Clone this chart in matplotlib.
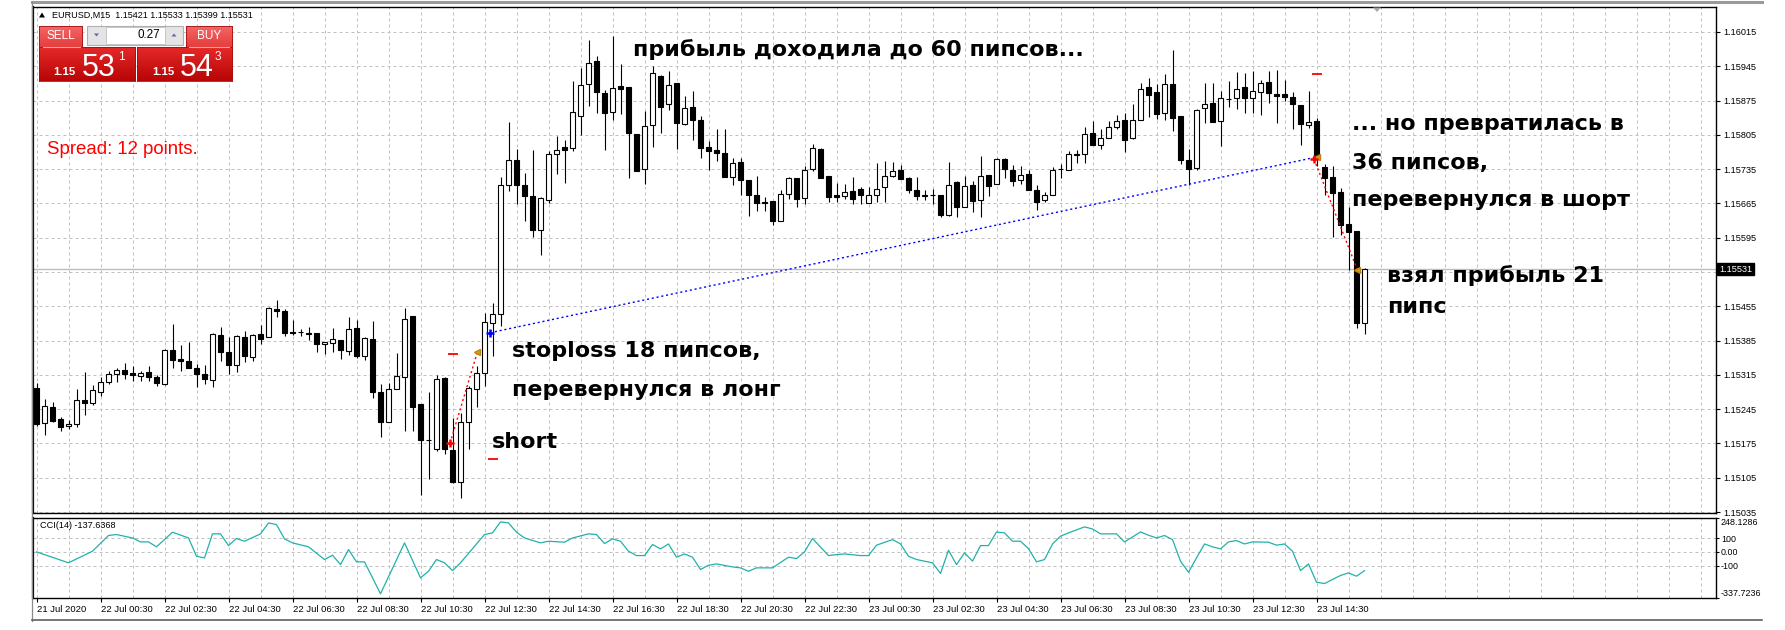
import numpy as np
import matplotlib
matplotlib.use('Agg')
import matplotlib.pyplot as plt
from matplotlib.patches import Rectangle, Polygon
from matplotlib.lines import Line2D
from matplotlib.transforms import Affine2D

plt.rcParams['font.family'] = ['Liberation Sans', 'DejaVu Sans']

# ---------------- data (EURUSD M15, 21 Jul 22:30 .. 23 Jul 16:00) ----------------
opens = [1.15288, 1.15217, 1.15250, 1.15225, 1.15210, 1.15214, 1.15263, 1.15257, 1.15280, 1.15300,
         1.15317, 1.15324, 1.15318, 1.15313, 1.15321, 1.15311, 1.15296, 1.15366, 1.15348, 1.15343,
         1.15328, 1.15316, 1.15304, 1.15397, 1.15362, 1.15335, 1.15393, 1.15352, 1.15399, 1.15392,
         1.15450, 1.15446, 1.15403, 1.15403, 1.15401, 1.15401, 1.15378, 1.15380, 1.15386, 1.15364,
         1.15411, 1.15354, 1.15388, 1.15281, 1.15219, 1.15286, 1.15310, 1.15435, 1.15255, 1.15183,
         1.15164, 1.15308, 1.15161, 1.15097, 1.15218, 1.15286, 1.15318, 1.15421, 1.15440, 1.15702,
         1.15754, 1.15703, 1.15681, 1.15610, 1.15673, 1.15765, 1.15780, 1.15778, 1.15844, 1.15908,
         1.15955, 1.15891, 1.15852, 1.15904, 1.15902, 1.15806, 1.15736, 1.15826, 1.15925, 1.15867,
         1.15910, 1.15827, 1.15861, 1.15836, 1.15780, 1.15774, 1.15767, 1.15719, 1.15750, 1.15712,
         1.15682, 1.15667, 1.15669, 1.15630, 1.15685, 1.15716, 1.15676, 1.15736, 1.15777, 1.15721,
         1.15682, 1.15681, 1.15690, 1.15695, 1.15666, 1.15683, 1.15698, 1.15721, 1.15734, 1.15717,
         1.15693, 1.15682, 1.15683, 1.15683, 1.15642, 1.15708, 1.15658, 1.15703, 1.15671, 1.15724,
         1.15705, 1.15755, 1.15734, 1.15712, 1.15726, 1.15693, 1.15671, 1.15683, 1.15735, 1.15734,
         1.15764, 1.15766, 1.15808, 1.15785, 1.15799, 1.15822, 1.15835, 1.15799, 1.15835, 1.15902,
         1.15892, 1.15850, 1.15908, 1.15843, 1.15753, 1.15737, 1.15859, 1.15869, 1.15834, 1.15879,
         1.15880, 1.15902, 1.15880, 1.15893, 1.15912, 1.15889, 1.15889, 1.15882, 1.15865, 1.15826,
         1.15833, 1.15740, 1.15718, 1.15688, 1.15623, 1.15608, 1.15421]
highs = [1.15299, 1.15265, 1.15260, 1.15229, 1.15223, 1.15287, 1.15321, 1.15294, 1.15311, 1.15323,
         1.15329, 1.15339, 1.15333, 1.15322, 1.15334, 1.15314, 1.15367, 1.15418, 1.15375, 1.15383,
         1.15337, 1.15336, 1.15401, 1.15413, 1.15393, 1.15396, 1.15405, 1.15398, 1.15416, 1.15454,
         1.15467, 1.15450, 1.15428, 1.15409, 1.15413, 1.15401, 1.15383, 1.15411, 1.15386, 1.15434,
         1.15428, 1.15392, 1.15424, 1.15296, 1.15299, 1.15360, 1.15451, 1.15436, 1.15256, 1.15280,
         1.15315, 1.15310, 1.15226, 1.15237, 1.15293, 1.15334, 1.15442, 1.15461, 1.15719, 1.15831,
         1.15776, 1.15727, 1.15774, 1.15678, 1.15772, 1.15802, 1.15795, 1.15914, 1.15942, 1.15999,
         1.15965, 1.15897, 1.16006, 1.15950, 1.15903, 1.15806, 1.15853, 1.15945, 1.15928, 1.15935,
         1.15911, 1.15884, 1.15894, 1.15843, 1.15792, 1.15816, 1.15816, 1.15758, 1.15758, 1.15712,
         1.15722, 1.15678, 1.15670, 1.15692, 1.15719, 1.15717, 1.15741, 1.15786, 1.15778, 1.15722,
         1.15707, 1.15704, 1.15718, 1.15699, 1.15698, 1.15748, 1.15751, 1.15749, 1.15744, 1.15718,
         1.15718, 1.15693, 1.15695, 1.15683, 1.15749, 1.15710, 1.15720, 1.15710, 1.15761, 1.15724,
         1.15758, 1.15758, 1.15744, 1.15742, 1.15734, 1.15702, 1.15689, 1.15739, 1.15746, 1.15772,
         1.15775, 1.15821, 1.15833, 1.15816, 1.15834, 1.15846, 1.15850, 1.15867, 1.15911, 1.15921,
         1.15908, 1.15930, 1.15979, 1.15843, 1.15777, 1.15858, 1.15911, 1.15910, 1.15895, 1.15914,
         1.15933, 1.15931, 1.15935, 1.15916, 1.15935, 1.15938, 1.15916, 1.15893, 1.15865, 1.15895,
         1.15840, 1.15746, 1.15741, 1.15697, 1.15657, 1.15609, 1.15533]
lows = [1.15210, 1.15192, 1.15219, 1.15200, 1.15205, 1.15209, 1.15233, 1.15253, 1.15271, 1.15297,
        1.15301, 1.15306, 1.15302, 1.15302, 1.15302, 1.15292, 1.15295, 1.15330, 1.15322, 1.15328,
        1.15291, 1.15296, 1.15290, 1.15343, 1.15316, 1.15320, 1.15341, 1.15344, 1.15377, 1.15392,
        1.15433, 1.15394, 1.15396, 1.15394, 1.15386, 1.15361, 1.15357, 1.15361, 1.15348, 1.15356,
        1.15350, 1.15346, 1.15267, 1.15188, 1.15219, 1.15286, 1.15200, 1.15200, 1.15070, 1.15102,
        1.15160, 1.15153, 1.15095, 1.15064, 1.15163, 1.15249, 1.15292, 1.15354, 1.15414, 1.15691,
        1.15664, 1.15629, 1.15597, 1.15559, 1.15666, 1.15725, 1.15706, 1.15772, 1.15804, 1.15863,
        1.15850, 1.15775, 1.15836, 1.15848, 1.15716, 1.15731, 1.15704, 1.15780, 1.15808, 1.15855,
        1.15777, 1.15825, 1.15795, 1.15757, 1.15734, 1.15751, 1.15719, 1.15702, 1.15683, 1.15640,
        1.15649, 1.15649, 1.15621, 1.15629, 1.15675, 1.15658, 1.15663, 1.15731, 1.15717, 1.15668,
        1.15668, 1.15675, 1.15663, 1.15664, 1.15665, 1.15668, 1.15668, 1.15719, 1.15714, 1.15686,
        1.15671, 1.15673, 1.15663, 1.15637, 1.15640, 1.15638, 1.15658, 1.15648, 1.15638, 1.15680,
        1.15705, 1.15716, 1.15700, 1.15705, 1.15693, 1.15651, 1.15668, 1.15683, 1.15717, 1.15734,
        1.15748, 1.15748, 1.15784, 1.15777, 1.15799, 1.15816, 1.15770, 1.15797, 1.15835, 1.15842,
        1.15838, 1.15836, 1.15812, 1.15746, 1.15702, 1.15733, 1.15829, 1.15831, 1.15783, 1.15862,
        1.15858, 1.15850, 1.15850, 1.15845, 1.15870, 1.15829, 1.15875, 1.15816, 1.15784, 1.15818,
        1.15741, 1.15683, 1.15597, 1.15600, 1.15530, 1.15411, 1.15399]
closes = [1.15214, 1.15251, 1.15220, 1.15209, 1.15215, 1.15263, 1.15257, 1.15284, 1.15301, 1.15317,
          1.15325, 1.15316, 1.15315, 1.15318, 1.15310, 1.15298, 1.15366, 1.15345, 1.15343, 1.15328,
          1.15316, 1.15306, 1.15399, 1.15361, 1.15335, 1.15395, 1.15353, 1.15396, 1.15388, 1.15452,
          1.15445, 1.15400, 1.15400, 1.15402, 1.15398, 1.15377, 1.15382, 1.15388, 1.15365, 1.15409,
          1.15353, 1.15390, 1.15280, 1.15218, 1.15287, 1.15313, 1.15430, 1.15249, 1.15182, 1.15182,
          1.15307, 1.15163, 1.15097, 1.15218, 1.15289, 1.15318, 1.15422, 1.15440, 1.15703, 1.15754,
          1.15702, 1.15681, 1.15610, 1.15676, 1.15765, 1.15775, 1.15775, 1.15851, 1.15906, 1.15952,
          1.15892, 1.15850, 1.15901, 1.15899, 1.15809, 1.15732, 1.15824, 1.15931, 1.15862, 1.15906,
          1.15829, 1.15860, 1.15836, 1.15778, 1.15773, 1.15767, 1.15719, 1.15748, 1.15712, 1.15682,
          1.15666, 1.15666, 1.15629, 1.15685, 1.15717, 1.15675, 1.15734, 1.15778, 1.15717, 1.15678,
          1.15678, 1.15689, 1.15675, 1.15683, 1.15683, 1.15695, 1.15722, 1.15732, 1.15714, 1.15693,
          1.15680, 1.15680, 1.15682, 1.15642, 1.15703, 1.15658, 1.15701, 1.15669, 1.15722, 1.15701,
          1.15755, 1.15735, 1.15710, 1.15724, 1.15693, 1.15668, 1.15683, 1.15734, 1.15736, 1.15765,
          1.15765, 1.15806, 1.15785, 1.15799, 1.15822, 1.15833, 1.15794, 1.15836, 1.15899, 1.15887,
          1.15848, 1.15908, 1.15840, 1.15753, 1.15736, 1.15855, 1.15867, 1.15831, 1.15880, 1.15878,
          1.15899, 1.15880, 1.15895, 1.15910, 1.15891, 1.15885, 1.15882, 1.15867, 1.15828, 1.15831,
          1.15755, 1.15716, 1.15686, 1.15620, 1.15607, 1.15420, 1.15531]

cci_bar = [0, 4, 7, 9, 10, 12, 13, 14, 15, 17, 19, 20, 21, 22, 23, 24, 25, 26, 28, 29, 30, 31, 32, 34,
           36, 37, 38, 39, 40, 41, 43, 46, 48, 49, 50, 51, 52, 53, 56, 57, 58, 59, 60, 61, 63, 64, 66,
           67, 69, 70, 71, 72, 73, 74, 75, 76, 77, 78, 79, 80, 81, 82, 83, 84, 85, 87, 88, 89, 90, 92,
           94, 95, 96, 97, 99, 100, 101, 103, 104, 105, 107, 108, 109, 110, 111, 112, 113, 114, 115,
           116, 117, 118, 119, 120, 121, 122, 123, 124, 125, 126, 127, 128, 129, 131, 132, 133, 135,
           136, 138, 139, 140, 141, 142, 143, 144, 145, 146, 147, 148, 149, 150, 151, 152, 154, 155,
           156, 157, 158, 159, 160, 161, 162, 163, 164, 165, 166]
cci_val = [0, -80, 5, 120, 127, 102, 73, 73, 37, 144, 102, -32, -44, 132, 132, 46, 98, 78, 132, 212,
           200, 95, 66, 37, -56, -24, -93, 17, -73, -73, -307, 66, -190, -142, -56, -80, -137, -80,
           127, 139, 220, 212, 144, 102, 66, 78, 71, 102, 132, 127, 61, 95, 78, 5, -27, -27, 54, 22,
           58, -39, -15, -39, -129, -98, -88, -110, -117, -142, -117, -117, -39, -49, 0, 98, -27,
           -20, -15, -27, -27, 49, 90, 58, -32, -56, -68, -80, -158, 12, -93, -7, -68, 46, 46, 146,
           139, 78, 78, 24, -73, -56, 58, 115, 139, 183, 168, 132, 132, 73, 146, 122, 102, 120, 90,
           -68, -149, -44, 58, 37, 22, 73, 83, 58, 73, 71, 49, 58, 5, -137, -88, -222, -232, -202,
           -173, -154, -178, -137.6368]
cci_max, cci_min = 248.1286, -337.7236

# trades: open / close markers and connecting dotted lines
trade_open_bar = [51.7, 56.7, 159.7]
trade_open_price = [1.15176, 1.15401, 1.15755]
trade_close_bar = [55.1, 160.1, 165.1]
trade_close_price = [1.15361, 1.15760, 1.15530]
trade_color = ['red', 'blue', 'red']
stop_bar = [52.0, 57.0, 160.0]
stop_price = [1.15357, 1.15143, 1.15929]

price_tick_labels = ['1.15035', '1.15105', '1.15175', '1.15245', '1.15315', '1.15385', '1.15455',
                     '1.15525', '1.15595', '1.15665', '1.15735', '1.15805', '1.15875', '1.15945',
                     '1.16015']
last_price = 1.15531
time_tick_bar = [0, 8, 16, 24, 32, 40, 48, 56, 64, 72, 80, 88, 96, 104, 112, 120, 128, 136, 144,
                 152, 160]
time_tick_labels = ['21 Jul 2020', '22 Jul 00:30', '22 Jul 02:30', '22 Jul 04:30', '22 Jul 06:30',
                    '22 Jul 08:30', '22 Jul 10:30', '22 Jul 12:30', '22 Jul 14:30', '22 Jul 16:30',
                    '22 Jul 18:30', '22 Jul 20:30', '22 Jul 22:30', '23 Jul 00:30', '23 Jul 02:30',
                    '23 Jul 04:30', '23 Jul 06:30', '23 Jul 08:30', '23 Jul 10:30', '23 Jul 12:30',
                    '23 Jul 14:30']

notes = [('прибыль доходила до 60 пипсов...', 74.6, 1.15980),
         ('... но превратилась в', 164.4, 1.15827),
         ('36 пипсов,', 164.4, 1.15748),
         ('перевернулся в шорт', 164.4, 1.15672),
         ('взял прибыль 21', 168.8, 1.15518),
         ('пипс', 168.8, 1.15454),
         ('stoploss 18 пипсов,', 59.4, 1.15364),
         ('перевернулся в лонг', 59.4, 1.15284),
         ('short', 56.9, 1.15178)]

# ---------------- figure ----------------
W, H = 1785, 630
fig = plt.figure(figsize=(W / 100, H / 100), dpi=100, facecolor='white')
PX = Affine2D().scale(1 / W, -1 / H).translate(0, 1) + fig.transFigure


def fr(x0, y0, x1, y1):
    return [x0 / W, 1 - y1 / H, (x1 - x0) / W, (y1 - y0) / H]


ax = fig.add_axes(fr(33, 7, 1716, 513))
cax = fig.add_axes(fr(33, 518, 1716, 598))
XMIN, XMAX = -0.4375, 209.9375
for a in (ax, cax):
    a.set_xlim(XMIN, XMAX)
    a.set_facecolor('white')
    for s in a.spines.values():
        s.set_linewidth(1.0)
        s.set_color('black')
ax.spines['left'].set_linewidth(1.6)
cax.spines['left'].set_linewidth(1.6)

price_ticks = [float(s) for s in price_tick_labels]
ax.set_ylim(1.15033, 1.16066)
cax.set_ylim(cci_min, cci_max)

grid_kw = dict(color='#c0c0c0', lw=0.72, ls=(0, (3, 3)), zorder=0)
for gx in np.arange(0, XMAX, 4):
    ax.axvline(gx, **grid_kw)
    cax.axvline(gx, **grid_kw)
for p in price_ticks:
    ax.axhline(p, **grid_kw)
for cv in (100, 0, -100):
    cax.axhline(cv, **grid_kw)
ax.axhline(last_price, color='#bdbdbd', lw=1.0, zorder=0.5)

# candles
o = np.array(opens); h = np.array(highs); l = np.array(lows); c = np.array(closes)
xb = np.arange(len(o))
ax.vlines(xb, l, h, color='black', lw=0.8, zorder=2)
bull = c >= o
lo = np.minimum(o, c)
ht = np.maximum(np.abs(c - o), 1e-7)
ax.bar(xb[bull], ht[bull], bottom=lo[bull], width=0.52, color='white', edgecolor='black',
       lw=0.8, zorder=3)
ax.bar(xb[~bull], ht[~bull], bottom=lo[~bull], width=0.52, color='black', edgecolor='black',
       lw=0.8, zorder=3)

# trades
for ob, op, cb, cp, col in zip(trade_open_bar, trade_open_price, trade_close_bar,
                               trade_close_price, trade_color):
    ax.plot([ob, cb], [op, cp], color=col, lw=1.0, ls=(0, (1.5, 2)), zorder=4)
    ax.plot([ob], [op], marker='+', color=col, ms=6, mew=1.8, zorder=5)
    ax.plot([cb], [cp], marker='<', color='#d4a017', ms=5, mec='#b8860b', zorder=5)
ax.plot(stop_bar, stop_price, ls='none', marker='_', color='red', ms=7, mew=1.3, zorder=5)

# axis labels
ax.set_xticks([])
ax.yaxis.tick_right()
ax.set_yticks(price_ticks)
ax.set_yticklabels([s if s != '1.15525' else '' for s in price_tick_labels])
ax.tick_params(axis='y', length=3, width=0.8, pad=2.5, labelsize=6.6, direction='out')
ax.text(1.0 + 3 / 1683, last_price, '%.5f' % last_price, transform=ax.get_yaxis_transform(),
        ha='left', va='center', color='white', fontsize=6.6,
        bbox=dict(boxstyle='square,pad=0.2', fc='black', ec='black'), zorder=6, clip_on=False)

cax.yaxis.tick_right()
cax.set_yticks([cci_max, 100, 0, -100, cci_min])
cax.set_yticklabels(['248.1286', '100', '0.00', '-100', '-337.7236'])
cax.tick_params(axis='y', length=2, width=0.8, pad=1.5, labelsize=6.4, direction='out')
ylbls = cax.get_yticklabels()
ylbls[0].set_va('top')
ylbls[-1].set_va('bottom')
cax.set_xticks(time_tick_bar)
cax.set_xticklabels(time_tick_labels)
cax.tick_params(axis='x', length=3, width=0.8, pad=2, labelsize=6.8, direction='out')
for t in cax.get_xticklabels():
    t.set_ha('left')

cax.plot(cci_bar, cci_val, color='#20b2aa', lw=0.9, zorder=3)
fig.text(40 / W, 1 - 526 / H, 'CCI(14) -137.6368', fontsize=6.6, va='center', ha='left')

# annotations (fit font so that a reference line has its original width)
renderer = fig.canvas.get_renderer()
probe = fig.text(0, 0, 'перевернулся в шорт', fontsize=20, fontweight='bold', family='DejaVu Sans')
fs = 20 * 278 / probe.get_window_extent(renderer).width
probe.remove()
for s, bx, py in notes:
    ax.text(bx, py, s, fontsize=fs, fontweight='bold', family='DejaVu Sans', ha='left',
            va='center', color='black', zorder=7)

# ---------------- window decorations ----------------
fig.add_artist(Line2D([32, 1762], [2, 2], transform=PX, color='#9a9a9a', lw=2.2))
fig.add_artist(Line2D([31.5, 31.5], [2, 621], transform=PX, color='#8a8a8a', lw=0.9))
fig.add_artist(Line2D([32, 1762], [620, 620], transform=PX, color='#606060', lw=1.2))
fig.add_artist(Polygon([(1373, 7.5), (1381, 7.5), (1377, 12)], closed=True, transform=PX,
                       fc='#a8a8a8', ec='none', zorder=10))

# header
fig.add_artist(Polygon([(39, 17.5), (45, 17.5), (42, 12.5)], closed=True, transform=PX,
                       fc='black', ec='none', zorder=10))
fig.text(52 / W, 1 - 15.5 / H, 'EURUSD,M15  1.15421 1.15533 1.15399 1.15531', fontsize=6.5,
         va='center', ha='left')


def grad_box(x0, y0, x1, y1, top, bottom):
    gax = fig.add_axes(fr(x0, y0, x1, y1), zorder=20)
    g = np.linspace(np.array(top), np.array(bottom), 40).reshape(40, 1, 3)
    gax.imshow(g, aspect='auto', extent=[0, 1, 0, 1], interpolation='bilinear')
    gax.set_xticks([]); gax.set_yticks([])
    for s in gax.spines.values():
        s.set_color('#a01010'); s.set_linewidth(0.6)
    return gax


light_top, light_bot = (0.96, 0.40, 0.40), (0.90, 0.24, 0.24)
dark_top, dark_bot = (0.90, 0.16, 0.16), (0.72, 0.02, 0.02)
grad_box(39, 26, 82, 47, light_top, light_bot)
grad_box(186, 26, 232, 47, light_top, light_bot)
grad_box(39, 47, 135, 81, dark_top, dark_bot)
grad_box(137, 47, 232, 81, dark_top, dark_bot)

tz = dict(transform=PX, zorder=30)
fig.text(60.5, 36, 'SELL', color='white', fontsize=8.5, ha='center', va='center', **tz)
fig.text(209, 36, 'BUY', color='white', fontsize=8.5, ha='center', va='center', **tz)
fig.add_artist(Line2D([43, 80], [46.5, 46.5], transform=PX, color='#f6a0a0', lw=0.8, zorder=31))
fig.add_artist(Line2D([189, 229], [46.5, 46.5], transform=PX, color='#f6a0a0', lw=0.8, zorder=31))

# lot control
fig.add_artist(Rectangle((87, 26), 96, 18.5, transform=PX, fc='#e4e4e4', ec='#b0b0b0', lw=0.8, zorder=25))
fig.add_artist(Rectangle((106, 27), 59, 16.5, transform=PX, fc='white', ec='#c0c0c0', lw=0.6, zorder=26))
fig.add_artist(Polygon([(94, 33.5), (99, 33.5), (96.5, 36.5)], closed=True, transform=PX,
                       fc='#5a6a9a', ec='none', zorder=27))
fig.add_artist(Polygon([(171.5, 36.5), (176.5, 36.5), (174, 33.5)], closed=True, transform=PX,
                       fc='#5a6a9a', ec='none', zorder=27))
fig.text(160, 35.5, '0.27', color='black', fontsize=8.4, ha='right', va='center', **tz)

# prices in the boxes
fig.text(53, 75, '1.15', color='white', fontsize=8.2, fontweight='bold', ha='left', va='baseline', **tz)
fig.text(82, 75.5, '53', color='white', fontsize=22, ha='left', va='baseline', **tz)
fig.text(118, 60.5, '1', color='white', fontsize=8.6, ha='left', va='baseline', **tz)
fig.text(152, 75, '1.15', color='white', fontsize=8.2, fontweight='bold', ha='left', va='baseline', **tz)
fig.text(180, 75.5, '54', color='white', fontsize=22, ha='left', va='baseline', **tz)
fig.text(215, 60.5, '3', color='white', fontsize=8.6, ha='left', va='baseline', **tz)

fig.text(47, 150, 'Spread: 12 points.', color='#ff0000', fontsize=13.4, ha='left', va='center', **tz)

fig.savefig('out.png', dpi=100, facecolor='white')
